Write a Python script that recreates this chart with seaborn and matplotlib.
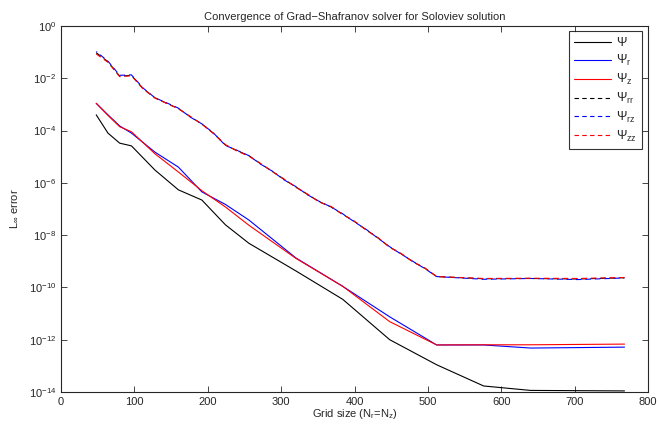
import numpy as np
import pandas as pd
import seaborn as sns
import matplotlib
matplotlib.use("Agg")
import matplotlib.pyplot as plt
from matplotlib.ticker import FixedLocator, LogFormatterMathtext

# grid sizes used for the field errors
n_solid = [48, 64, 80, 96, 128, 160, 192, 224, 256, 320, 384, 448, 512, 576, 640, 768]
psi = [4.0e-4, 8.0e-5, 3.3e-5, 2.6e-5, 3.1e-6, 5.4e-7, 2.2e-7, 2.5e-8, 4.9e-9,
       4.3e-10, 3.5e-11, 1.0e-12, 1.1e-13, 1.7e-14, 1.15e-14, 1.1e-14]
psi_r = [1.1e-3, 4.0e-4, 1.5e-4, 8.0e-5, 1.5e-5, 4.0e-6, 4.5e-7, 1.5e-7, 3.8e-8,
         1.35e-9, 1.1e-10, 7.5e-12, 6.3e-13, 6.3e-13, 4.8e-13, 5.2e-13]
psi_z = [1.1e-3, 3.8e-4, 1.4e-4, 9.0e-5, 1.3e-5, 2.6e-6, 5.0e-7, 1.2e-7, 2.4e-8,
         1.3e-9, 1.1e-10, 4.9e-12, 6.3e-13, 6.4e-13, 6.4e-13, 6.8e-13]

# grid sizes used for the second derivative errors
n_dash = [48, 64, 80, 96, 112, 128, 144, 160, 176, 192, 208, 224, 240, 256, 272, 288,
          304, 320, 336, 352, 368, 384, 400, 416, 432, 448, 464, 480, 496, 512,
          576, 640, 704, 768]
psi_rr = [9.5e-2, 4.3e-2, 1.2e-2, 1.3e-2, 4.0e-3, 1.8e-3, 1.1e-3, 7.0e-4, 3.4e-4,
          1.8e-4, 7.8e-5, 2.8e-5, 1.7e-5, 1.1e-5, 5.4e-6, 2.75e-6, 1.35e-6, 7.0e-7,
          3.6e-7, 1.9e-7, 1.2e-7, 6.3e-8, 3.3e-8, 1.6e-8, 7.8e-9, 3.5e-9, 1.9e-9,
          9.5e-10, 5.4e-10, 2.6e-10, 2.15e-10, 2.2e-10, 2.1e-10, 2.35e-10]
psi_rz = [1.05e-1, 4.5e-2, 1.3e-2, 1.35e-2, 4.2e-3, 1.8e-3, 1.15e-3, 7.2e-4, 3.3e-4,
          1.8e-4, 8.0e-5, 2.7e-5, 1.75e-5, 1.1e-5, 5.2e-6, 2.8e-6, 1.3e-6, 7.2e-7,
          3.5e-7, 1.95e-7, 1.2e-7, 6.5e-8, 3.2e-8, 1.65e-8, 7.6e-9, 3.6e-9, 1.85e-9,
          9.8e-10, 5.2e-10, 2.6e-10, 2.05e-10, 2.2e-10, 2.0e-10, 2.3e-10]
psi_zz = [8.5e-2, 4.1e-2, 1.15e-2, 1.25e-2, 3.9e-3, 1.75e-3, 1.1e-3, 6.8e-4, 3.5e-4,
          1.75e-4, 7.6e-5, 2.9e-5, 1.65e-5, 1.05e-5, 5.5e-6, 2.7e-6, 1.4e-6, 6.8e-7,
          3.7e-7, 1.85e-7, 1.25e-7, 6.1e-8, 3.4e-8, 1.55e-8, 8.0e-9, 3.4e-9, 1.95e-9,
          9.3e-10, 5.5e-10, 2.6e-10, 2.2e-10, 2.25e-10, 2.2e-10, 2.4e-10]

labels = [r'$\Psi$', r'$\Psi_r$', r'$\Psi_z$', r'$\Psi_{rr}$', r'$\Psi_{rz}$', r'$\Psi_{zz}$']

sns.set_style("ticks")
plt.rcParams['font.family'] = ['Liberation Sans', 'DejaVu Sans']
plt.rcParams['mathtext.fontset'] = 'custom'
plt.rcParams['mathtext.rm'] = 'Liberation Sans'
plt.rcParams['mathtext.it'] = 'Liberation Sans'

fig = plt.figure(figsize=(6.59, 4.29), dpi=100)
ax = fig.add_axes([61 / 659, 1 - 392 / 429, (648 - 61) / 659, (392 - 26) / 429])

series = [
    (n_solid, psi, 'black', '-'),
    (n_solid, psi_r, '#0000ff', '-'),
    (n_solid, psi_z, '#ff0000', '-'),
    (n_dash, psi_rr, 'black', '--'),
    (n_dash, psi_rz, '#0000ff', '--'),
    (n_dash, psi_zz, '#ff0000', '--'),
]
for (xs, ys, col, ls), lab in zip(series, labels):
    sns.lineplot(x=xs, y=ys, ax=ax, color=col, linestyle=ls, linewidth=0.8,
                 label=lab, estimator=None, sort=False)
# dashed curves overlap; shift the blue phase so red and blue alternate
offsets = {'black': 0.0, '#0000ff': 4.0, '#ff0000': 0.0}
for line in ax.get_lines():
    if line.get_linestyle() == '--':
        line.set_linestyle((offsets.get(line.get_color(), 0.0), (5, 3.5)))

ax.set_yscale('log')
ax.set_xlim(0, 800)
ax.set_ylim(1e-14, 1e0)
ax.xaxis.set_major_locator(FixedLocator(np.arange(0, 801, 100)))
ax.yaxis.set_major_locator(FixedLocator([10.0 ** k for k in range(-14, 1, 2)]))
ax.yaxis.set_minor_locator(FixedLocator([]))
ax.yaxis.set_major_formatter(LogFormatterMathtext())
ax.tick_params(direction='in', top=True, right=True, labelsize=8, length=4, width=0.6)
ax.tick_params(which='minor', length=0)
for s in ax.spines.values():
    s.set_linewidth(0.8)

ax.set_title('Convergence of Grad\u2212Shafranov solver for Soloviev solution', fontsize=8, pad=4)
ax.set_xlabel(r'Grid size (N$_r$=N$_z$)', fontsize=8, labelpad=0)
ax.set_ylabel(r'L$_\infty$ error', fontsize=8, labelpad=6)

leg = ax.legend(loc='upper right', fontsize=9, frameon=True, fancybox=False,
                handlelength=3.0, handletextpad=0.4, borderpad=0.4, labelspacing=0.3,
                bbox_to_anchor=(0.99, 0.985), borderaxespad=0)
leg.get_frame().set_edgecolor('black')
leg.get_frame().set_linewidth(0.8)
for h in leg.get_lines():
    if h.get_linestyle() != '-':
        h.set_linestyle((0, (4, 3)))

fig.savefig('out.png', dpi=100)
